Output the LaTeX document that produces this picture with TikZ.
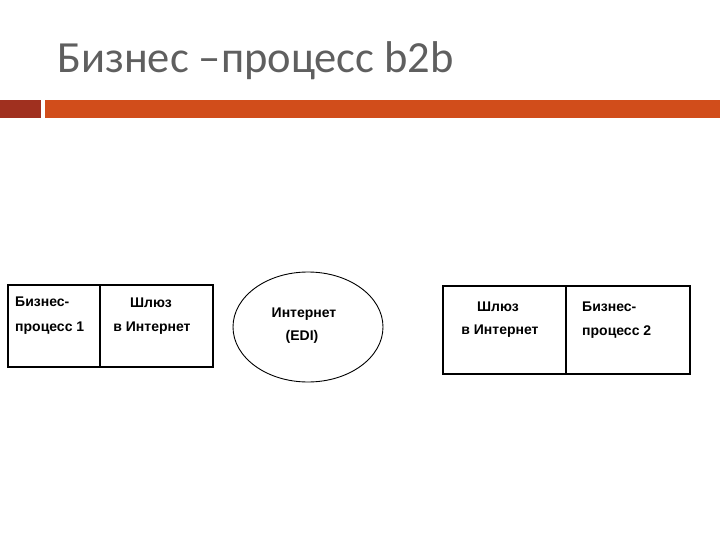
\documentclass[tikz,border=0pt]{standalone}
\usepackage{fontspec}
\setmainfont{Liberation Sans}
\newfontfamily\titlefont{Carlito}
\usetikzlibrary{shapes.geometric}
\definecolor{barred}{HTML}{A0301F}
\definecolor{barorange}{HTML}{D14D1B}
\definecolor{titlegray}{HTML}{5F5F5F}
\tikzset{
  lbl/.style={font=\fontsize{14}{16}\selectfont\bfseries, inner sep=0pt},
  blk/.style={draw, line width=1.2pt, inner sep=0pt, outer sep=0pt, anchor=north west},
}
\begin{document}
\begin{tikzpicture}[x=1pt,y=-1pt]
  \useasboundingbox (0,0) rectangle (720,540);
  % title and bar
  \node[anchor=base west, inner sep=0pt, text=titlegray, font=\titlefont\fontsize{44.5}{50}\selectfont] (title) at (57,73) {Бизнес –процесс b2b};
  \fill[barred](0,100) rectangle (41,118);
  \fill[barorange](45,100) rectangle (720,118);
  % left side
  \node[blk, minimum width=92pt, minimum height=82pt] (bp1) at (8,285) {};
  \node[blk, minimum width=113pt, minimum height=82pt] (gw1) at (bp1.north east) {};
  \node[lbl, anchor=base west] (bp1a) at (15,306) {Бизнес-};
  \node[lbl, anchor=base west] (bp1b) at (15,331) {процесс 1};
  \node[lbl, anchor=base] (gw1a) at (151,307) {Шлюз};
  \node[lbl, anchor=base] (gw1b) at (152,331) {в Интернет};
  % internet
  \node[draw, ellipse, line width=0.9pt, minimum width=150pt, minimum height=110pt] (net) at (308,327) {};
  \node[lbl, anchor=base] (neta) at (304,317) {Интернет};
  \node[lbl, anchor=base] (netb) at (302,340) {(EDI)};
  % right side
  \node[blk, minimum width=123pt, minimum height=88pt] (gw2) at (443,286) {};
  \node[blk, minimum width=124pt, minimum height=88pt] (bp2) at (gw2.north east) {};
  \node[lbl, anchor=base] (gw2a) at (498,311) {Шлюз};
  \node[lbl, anchor=base] (gw2b) at (500,334) {в Интернет};
  \node[lbl, anchor=base west] (bp2a) at (582,311) {Бизнес-};
  \node[lbl, anchor=base west] (bp2b) at (582,335) {процесс 2};
\end{tikzpicture}
\end{document}
